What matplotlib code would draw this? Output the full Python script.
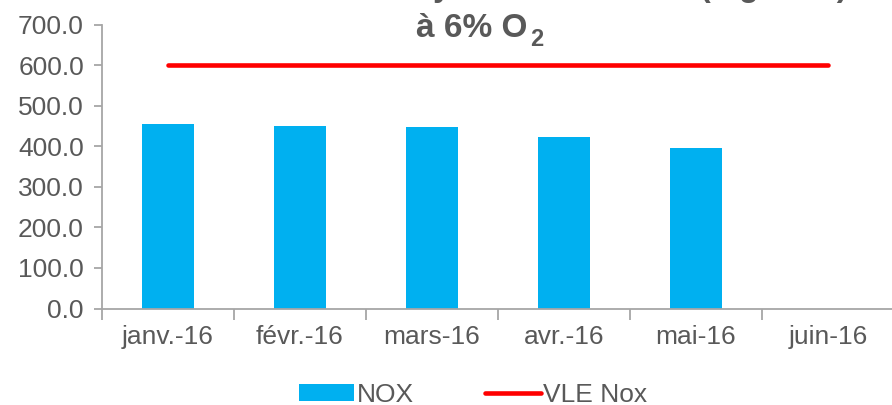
import numpy as np
import matplotlib.pyplot as plt
from matplotlib.ticker import FormatStrFormatter

# Chart data
months = ['janv.-16', 'févr.-16', 'mars-16', 'avr.-16', 'mai-16', 'juin-16']
nox = [455.0, 450.0, 447.0, 423.0, 396.0, np.nan]
vle_nox = [600.0, 600.0, 600.0, 600.0, 600.0, 600.0]
yticks = [0, 100, 200, 300, 400, 500, 600, 700]

grey_txt = '#595959'
grey_ax = '#A6A6A6'
plt.rcParams['font.family'] = ['Liberation Sans', 'DejaVu Sans']

fig = plt.figure(figsize=(8.92, 4.05), dpi=100)
ax = fig.add_axes([102 / 892, 1 - 308.5 / 405, 792 / 892, (308.5 - 24.7) / 405])

x = np.arange(len(months))
bars = ax.bar(x, nox, width=0.4, color='#00B0F0', label='NOX', zorder=2)
line, = ax.plot(x, vle_nox, color='#FF0000', lw=3.3, solid_capstyle='round',
                label='VLE Nox', zorder=3)

ax.set_xlim(-0.5, len(months) - 0.5)
ax.set_ylim(0, 700)
ax.set_yticks(yticks)
ax.yaxis.set_major_formatter(FormatStrFormatter('%.1f'))
ax.set_xticks(x)
ax.set_xticklabels(months)
ax.set_xticks(np.arange(len(months) + 1) - 0.5, minor=True)

for s in ['top', 'right']:
    ax.spines[s].set_visible(False)
for s in ['left', 'bottom']:
    ax.spines[s].set_color(grey_ax)
    ax.spines[s].set_linewidth(1.3)

ax.tick_params(axis='y', colors=grey_ax, labelcolor=grey_txt, labelsize=19,
               length=6, width=1.3, pad=7)
ax.tick_params(axis='x', which='major', length=0, labelcolor=grey_txt,
               labelsize=19, pad=12)
ax.tick_params(axis='x', which='minor', colors=grey_ax, length=8, width=1.3)

# title (first line is cut off at the top of the image, only descenders show)
fig.text(0.565, 1 + 4 / 405, 'Concentration moyenne mensuelle (mg/Nm3)',
         ha='center', va='baseline', fontsize=23, fontweight='bold', color=grey_txt)
fig.text(416 / 892, 1 - 37 / 405, 'à 6% O', ha='left', va='baseline',
         fontsize=24, fontweight='bold', color=grey_txt)
fig.text(530 / 892, 1 - 46 / 405, '2', ha='left', va='baseline',
         fontsize=17, fontweight='bold', color=grey_txt)

fig.legend(handles=[bars, line], loc='center', bbox_to_anchor=(473 / 892, 10 / 405),
           ncol=2, frameon=False, fontsize=19, labelcolor=grey_txt,
           handlelength=2.1, handleheight=0.6, handletextpad=0.1,
           columnspacing=2.7, borderpad=0)

fig.savefig('out.png', dpi=100)
